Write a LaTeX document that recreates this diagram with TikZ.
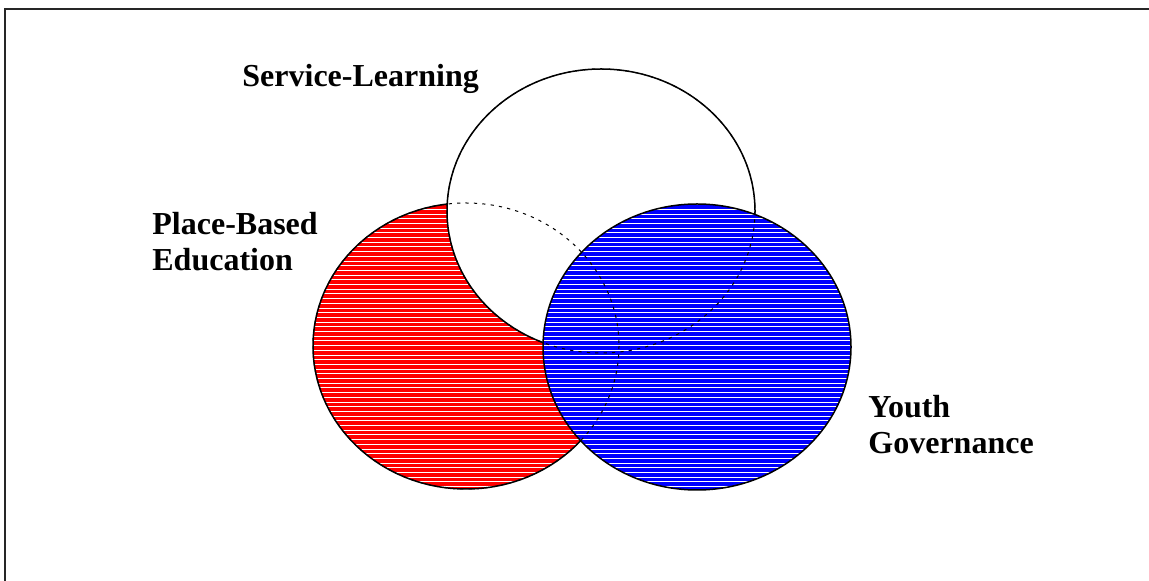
\documentclass[tikz,border=0pt]{standalone}
\usepackage{fontspec}
\setmainfont{Liberation Serif}
\tikzset{
  outline/.style={draw=black, line width=0.75pt},
  hiddenline/.style={draw=black, line width=0.5pt, dash pattern=on 1.6pt off 2.6pt},
  lbl/.style={font=\bfseries\fontsize{16}{18.4}\selectfont, anchor=base west, inner sep=0pt},
  hatch/.style={draw=white, line width=0.5pt},
  frameline/.style={draw=black!85, line width=1pt},
}
\begin{document}
\begin{tikzpicture}[x=0.5pt,y=-0.5pt]
\useasboundingbox (0,0) rectangle (1149,581);
% frame (only left and top edges visible)
\coordinate (fa) at (5,581);
\coordinate (fb) at (5,9);
\coordinate (fc) at (1149,9);
\draw[frameline] (fa) -- (fb) -- (fc);
% centres
\coordinate (red) at (466,346);
\coordinate (wht) at (601,211);
\coordinate (blu) at (697,347);
% red ellipse
\fill[red] (red) ellipse [x radius=153, y radius=143];
\begin{scope}
  \clip (red) ellipse [x radius=153, y radius=143];
  \foreach \i in {0,...,70} {\draw[hatch] (300,{200+4.7*\i}) -- (640,{200+4.7*\i});}
\end{scope}
\draw[outline] (red) ellipse [x radius=153, y radius=143];
% white ellipse
\filldraw[fill=white, outline] (wht) ellipse [x radius=154, y radius=142];
% blue ellipse
\fill[blue] (blu) ellipse [x radius=154, y radius=143];
\begin{scope}
  \clip (blu) ellipse [x radius=154, y radius=143];
  \foreach \i in {0,...,70} {\draw[hatch] (530,{200+4.7*\i}) -- (870,{200+4.7*\i});}
\end{scope}
\draw[outline] (blu) ellipse [x radius=154, y radius=143];
% hidden outlines showing through
\draw[hiddenline] (red) ellipse [x radius=153, y radius=143];
\draw[hiddenline] (wht) ellipse [x radius=154, y radius=142];
% labels
\node[lbl] (sl) at (242,87) {Service-Learning};
\node[lbl] (pb1) at (152,235) {Place-Based};
\node[lbl] (pb2) at (152,271) {Education};
\node[lbl] (yg1) at (868,418) {Youth};
\node[lbl] (yg2) at (868,454) {Governance};
\end{tikzpicture}
\end{document}
